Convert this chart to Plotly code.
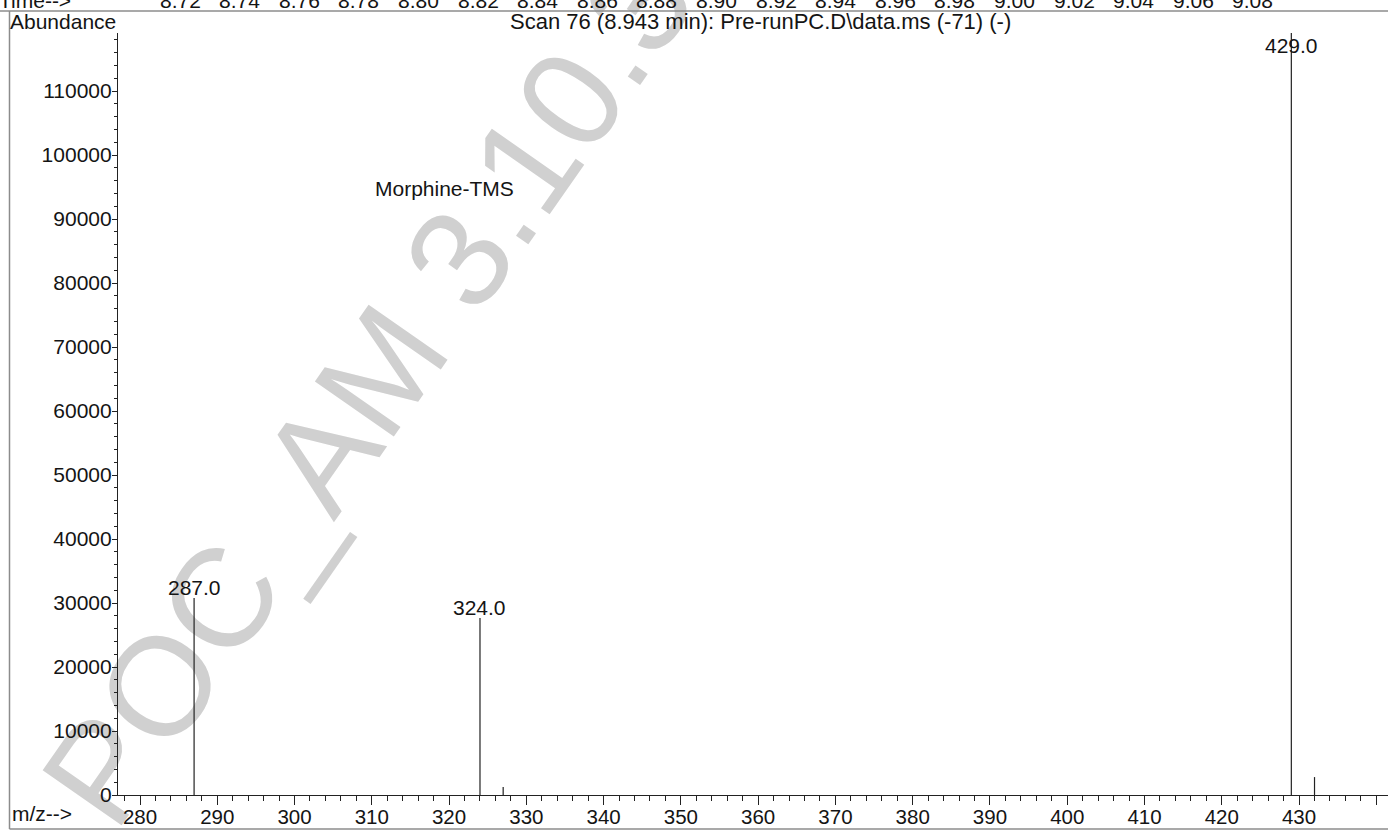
import math
import plotly.graph_objects as go

# ---- data ----
mz = [287.0, 324.0, 327.0, 429.0, 432.0]
abundance = [30780, 27650, 1250, 119060, 2800]
labeled_mz = [287.0, 324.0]
labeled_ab = [30780, 27650]
top_label_mz = [429.0]
time_ticks = ["8.72", "8.74", "8.76", "8.78", "8.80", "8.82", "8.84", "8.86", "8.88", "8.90",
              "8.92", "8.94", "8.96", "8.98", "9.00", "9.02", "9.04", "9.06", "9.08"]
title_text = "Scan 76 (8.943 min): Pre-runPC.D\\data.ms (-71) (-)"
compound = "Morphine-TMS"
watermark = "POC_AM 3.10.3"

W, H = 1388, 831
L, R, T, B = 118, 0, 33, 36
FONT = "Liberation Sans, Arial, Helvetica, sans-serif"
INK = "#141414"


def PX(px):
    return (px - L) / (W - L - R)


def PY(py):
    return (H - B - py) / (H - T - B)


xs, ys = [], []
for m, a in zip(mz, abundance):
    xs += [m, m, None]
    ys += [0, a, None]

fig = go.Figure()
fig.add_trace(go.Scatter(x=xs, y=ys, mode="lines",
                         line=dict(color="#222222", width=1.2),
                         hoverinfo="skip", showlegend=False))

ann = []
for m, a in zip(labeled_mz, labeled_ab):
    ann.append(dict(x=m, y=a, xref="x", yref="y", text=f"{m:.1f}", showarrow=False,
                    yanchor="bottom", xanchor="center", yshift=-3,
                    font=dict(size=21, color=INK, family=FONT)))
for m in top_label_mz:
    ann.append(dict(x=m, y=1, xref="x", yref="paper", text=f"{m:.1f}", showarrow=False,
                    yanchor="top", xanchor="center", yshift=1,
                    font=dict(size=21, color=INK, family=FONT)))

# header texts
ann.append(dict(x=PX(8), y=PY(21), xref="paper", yref="paper", text="Abundance",
                showarrow=False, xanchor="left", yanchor="middle",
                font=dict(size=21, color=INK, family=FONT)))
ann.append(dict(x=PX(760), y=PY(21), xref="paper", yref="paper", text=title_text,
                showarrow=False, xanchor="center", yanchor="middle",
                font=dict(size=22, color=INK, family=FONT)))
ann.append(dict(x=PX(444), y=PY(189), xref="paper", yref="paper", text=compound,
                showarrow=False, xanchor="center", yanchor="middle",
                font=dict(size=21, color=INK, family=FONT)))
ann.append(dict(x=PX(10), y=PY(813), xref="paper", yref="paper", text="m/z-->",
                showarrow=False, xanchor="left", yanchor="middle",
                font=dict(size=21, color=INK, family=FONT)))
# clipped time strip at the very top
ann.append(dict(x=PX(-3), y=PY(0), xref="paper", yref="paper", text="Time-->",
                showarrow=False, xanchor="left", yanchor="middle",
                font=dict(size=21, color=INK, family=FONT)))
for i, t in enumerate(time_ticks):
    ann.append(dict(x=PX(180 + 59.6 * i), y=PY(0), xref="paper", yref="paper", text=t,
                    showarrow=False, xanchor="center", yanchor="middle",
                    font=dict(size=21, color=INK, family=FONT)))

# watermark placement (pixel centre, angle)
wm_cx, wm_cy, wm_ang = 357, 382, 55
ux, uy = math.cos(math.radians(wm_ang)), -math.sin(math.radians(wm_ang))

shapes = [
    dict(type="line", xref="paper", yref="paper", x0=PX(0), x1=PX(W), y0=PY(11), y1=PY(11),
         line=dict(color="#8c8c8c", width=1.5), layer="above"),
    dict(type="line", xref="paper", yref="paper", x0=PX(9.5), x1=PX(9.5), y0=PY(11), y1=PY(829),
         line=dict(color="#8c8c8c", width=1.5), layer="above"),
    dict(type="line", xref="paper", yref="paper", x0=PX(9.5), x1=PX(W), y0=PY(829), y1=PY(829),
         line=dict(color="#8c8c8c", width=1.5), layer="above"),
    # watermark (drawn below the spectrum lines)
    dict(type="line", xref="paper", yref="paper",
         x0=PX(wm_cx - 500 * ux), y0=PY(wm_cy - 500 * uy),
         x1=PX(wm_cx + 500 * ux), y1=PY(wm_cy + 500 * uy),
         line=dict(color="rgba(0,0,0,0)", width=0), layer="below",
         label=dict(text=watermark, textposition="middle", textangle=-wm_ang,
                    xanchor="center", yanchor="middle",
                    font=dict(size=140, color="#d0d0d0", family=FONT))),
]

fig.update_layout(
    width=W, height=H,
    margin=dict(l=L, r=R, t=T, b=B, pad=0),
    paper_bgcolor="white", plot_bgcolor="white",
    showlegend=False,
    font=dict(family=FONT, color=INK, size=21),
    xaxis=dict(range=[277.153, 441.51], tick0=280, dtick=10, ticks="outside", ticklen=9,
               tickwidth=1, tickcolor="#222", showline=True, linecolor="#222", linewidth=1.2,
               showgrid=False, zeroline=False, ticklabelstandoff=-6,
               tickfont=dict(size=20.5, color=INK, family=FONT),
               minor=dict(dtick=2, tick0=280, ticks="outside", ticklen=5, tickcolor="#222",
                          tickwidth=1, showgrid=False)),
    yaxis=dict(range=[0, 119062], tick0=0, dtick=10000, tickformat="d", ticks="outside",
               ticklen=5, tickwidth=1, tickcolor="#222", showline=True, linecolor="#222",
               linewidth=1.2, showgrid=False, zeroline=False, ticklabelstandoff=-4,
               tickfont=dict(size=21, color=INK, family=FONT),
               minor=dict(dtick=2000, tick0=0, ticks="outside", ticklen=3, tickcolor="#222",
                          tickwidth=1, showgrid=False)),
    annotations=ann,
    shapes=shapes,
)

fig.write_html("out.html", config={"displayModeBar": False},
               post_script="document.body.style.margin='0';document.body.style.overflow='hidden';")
